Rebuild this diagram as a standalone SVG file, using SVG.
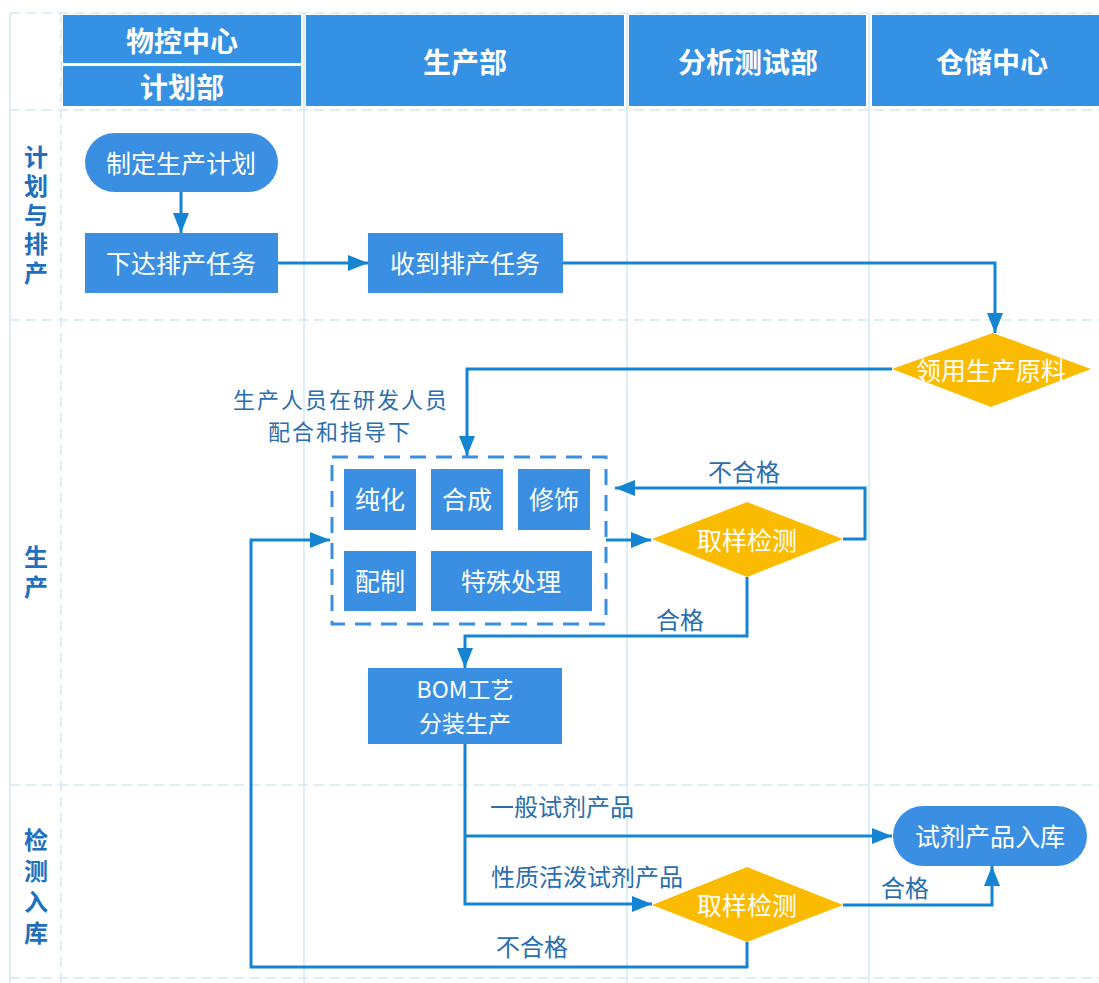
<svg xmlns="http://www.w3.org/2000/svg" width="1099" height="983" viewBox="0 0 1099 983">
<defs>
<style>
.grid{stroke:#d3e8f3;stroke-width:1.5;fill:none}
.gridd{stroke:#d3e8f3;stroke-width:1.5;fill:none;stroke-dasharray:10 6}
.hdr{fill:#3491e3}
.hdrt{font-family:"Noto Sans CJK SC","Noto Sans",sans-serif;font-weight:bold;font-size:28px;fill:#fff;text-anchor:middle;dominant-baseline:central}
.lane{font-family:"Noto Sans CJK SC","Noto Sans",sans-serif;font-weight:bold;font-size:24px;fill:#1e6fbd;writing-mode:vertical-rl;text-anchor:start}
.box{fill:#3a8fe3}
.dia{fill:#fbbb00}
.nt{font-family:"Noto Sans CJK SC","Noto Sans",sans-serif;font-size:25px;fill:#fff;text-anchor:middle;dominant-baseline:central}
.lbl{font-family:"Noto Sans CJK SC","Noto Sans",sans-serif;font-size:24px;fill:#2a6eae;text-anchor:middle;dominant-baseline:central}
.note{font-family:"Noto Sans CJK SC","Noto Sans",sans-serif;font-size:22px;letter-spacing:2px;fill:#2a6eae;text-anchor:middle;dominant-baseline:central}
.con{stroke:#1584d2;stroke-width:3;fill:none}
</style>
<marker id="arr" viewBox="0 0 20 16" refX="20" refY="8" markerWidth="20" markerHeight="16" markerUnits="userSpaceOnUse" orient="auto">
<path d="M0,0 L20,8 L0,16 z" fill="#1584d2"/>
</marker>
</defs>
<rect width="1099" height="983" fill="#fff"/>
<g id="grid">
<line class="grid" x1="10" y1="13" x2="10" y2="983"/>
<line class="gridd" x1="61" y1="13" x2="61" y2="983"/>
<line class="grid" x1="304" y1="13" x2="304" y2="983"/>
<line class="grid" x1="627" y1="13" x2="627" y2="983"/>
<line class="grid" x1="869" y1="13" x2="869" y2="983"/>
<line class="gridd" x1="10" y1="13" x2="1099" y2="13"/>
<line class="gridd" x1="10" y1="110" x2="1099" y2="110"/>
<line class="gridd" x1="10" y1="320" x2="1099" y2="320"/>
<line class="gridd" x1="10" y1="785" x2="1099" y2="785"/>
<line class="gridd" x1="10" y1="978" x2="1099" y2="978"/>
</g>
<g id="header">
<rect class="hdr" x="63" y="15" width="238" height="48"/>
<text class="hdrt" x="182" y="40">物控中心</text>
<rect class="hdr" x="63" y="66" width="238" height="40"/>
<text class="hdrt" x="182" y="86">计划部</text>
<rect class="hdr" x="306" y="15" width="318" height="91"/>
<text class="hdrt" x="465" y="61">生产部</text>
<rect class="hdr" x="629" y="15" width="237" height="91"/>
<text class="hdrt" x="748" y="61">分析测试部</text>
<rect class="hdr" x="872" y="15" width="227" height="91"/>
<text class="hdrt" x="992" y="61">仓储中心</text>
</g>
<g id="lanes">
<text class="lane" x="36" y="145" style="letter-spacing:5px">计划与排产</text>
<text class="lane" x="36" y="545" style="letter-spacing:6px">生产</text>
<text class="lane" x="36" y="828" style="letter-spacing:7px">检测入库</text>
</g>
<g id="connectors">
<path class="con" d="M181,192 V233" marker-end="url(#arr)"/>
<path class="con" d="M278,263 H368" marker-end="url(#arr)"/>
<path class="con" d="M563,263 H995 V333" marker-end="url(#arr)"/>
<path class="con" d="M892,369 H467 V456" marker-end="url(#arr)"/>
<path class="con" d="M606,540 H651" marker-end="url(#arr)"/>
<path class="con" d="M843,539 H865 V488 H615" marker-end="url(#arr)"/>
<path class="con" d="M747,577 V636 H465 V668" marker-end="url(#arr)"/>
<path class="con" d="M465,744 V904 H652" marker-end="url(#arr)"/>
<path class="con" d="M465,836 H892" marker-end="url(#arr)"/>
<path class="con" d="M843,905 H992 V866" marker-end="url(#arr)"/>
<path class="con" d="M747,942 V967 H251 V540 H330" marker-end="url(#arr)"/>
<text class="lbl" x="744" y="470">不合格</text>
<text class="lbl" x="680" y="618">合格</text>
<text class="lbl" x="562" y="805">一般试剂产品</text>
<text class="lbl" x="587" y="875">性质活泼试剂产品</text>
<text class="lbl" x="905" y="886">合格</text>
<text class="lbl" x="532" y="945">不合格</text>
</g>
<g id="n-plan">
<rect class="box" x="85" y="133" width="193" height="59" rx="29.5"/>
<text class="nt" x="181" y="162">制定生产计划</text>
</g>
<g id="n-issue">
<rect class="box" x="85" y="233" width="193" height="60"/>
<text class="nt" x="181" y="262">下达排产任务</text>
</g>
<g id="n-receive">
<rect class="box" x="368" y="233" width="195" height="60"/>
<text class="nt" x="465" y="262">收到排产任务</text>
</g>
<g id="n-material">
<polygon class="dia" points="993,333 1091,369 991,407 892,369"/>
<text class="nt" x="991" y="369">领用生产原料</text>
</g>
<g id="n-note">
<text class="note" x="341" y="398">生产人员在研发人员</text>
<text class="note" x="340" y="430">配合和指导下</text>
</g>
<g id="n-process">
<rect x="332" y="457" width="274" height="167" fill="none" stroke="#3a8fe3" stroke-width="3" stroke-dasharray="16 10"/>
<rect class="box" x="344" y="469" width="72" height="61"/>
<text class="nt" x="380" y="498">纯化</text>
<rect class="box" x="431" y="469" width="72" height="61"/>
<text class="nt" x="467" y="498">合成</text>
<rect class="box" x="518" y="469" width="72" height="61"/>
<text class="nt" x="554" y="498">修饰</text>
<rect class="box" x="344" y="551" width="72" height="60"/>
<text class="nt" x="380" y="580">配制</text>
<rect class="box" x="431" y="551" width="161" height="60"/>
<text class="nt" x="511" y="580">特殊处理</text>
</g>
<g id="n-check1">
<polygon class="dia" points="747,502 843,539 747,577 652,539"/>
<text class="nt" x="747" y="539">取样检测</text>
</g>
<g id="n-bom">
<rect class="box" x="368" y="668" width="194" height="76"/>
<text class="nt" x="465" y="688" style="font-size:23px">BOM工艺</text>
<text class="nt" x="465" y="722" style="font-size:23px">分装生产</text>
</g>
<g id="n-store">
<rect class="box" x="893" y="806" width="194" height="60" rx="30"/>
<text class="nt" x="990" y="835">试剂产品入库</text>
</g>
<g id="n-check2">
<polygon class="dia" points="747,867 843,905 747,942 652,905"/>
<text class="nt" x="747" y="904">取样检测</text>
</g>
</svg>
